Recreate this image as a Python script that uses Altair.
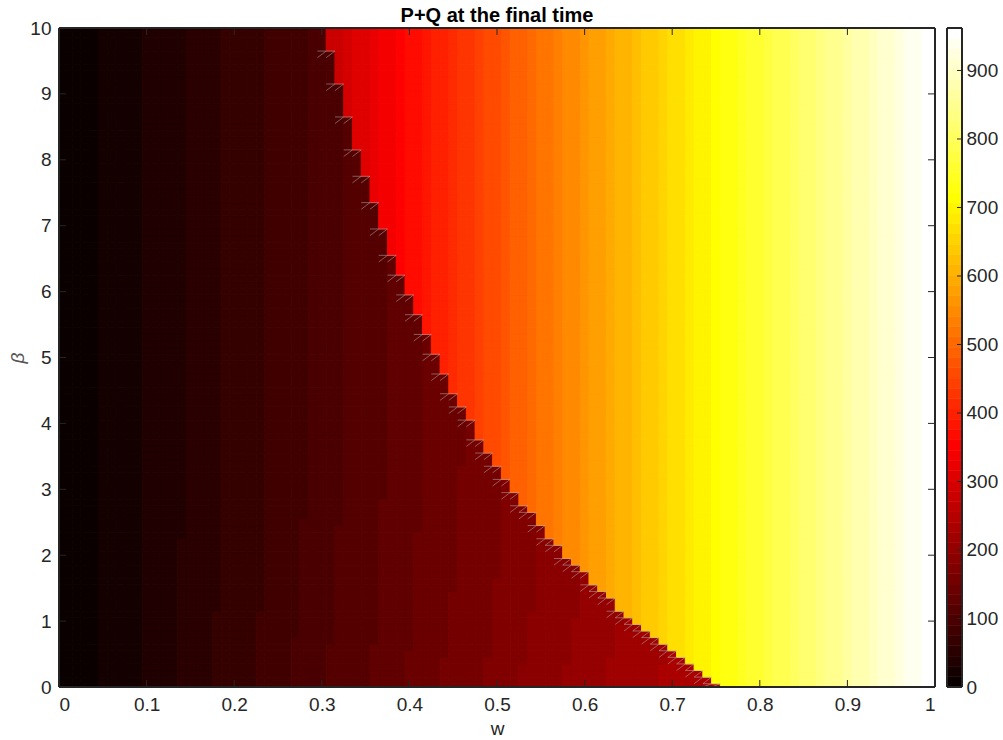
import altair as alt
import pandas as pd

TITLE = "P+Q at the final time"
X_TITLE = "w"
Y_TITLE = "β"
FONT = "Liberation Sans"
INK = "#262626"

# sampling grid of the surface: w = 0..1 (step 0.01), beta = 0..10 (step 0.1)
W_STEP = 0.01
BETA_STEP = 0.1
N_W = 101
N_BETA = 101
W_MAX = 1.0
BETA_MAX = 10.0

x_ticks = [0, 0.1, 0.2, 0.3, 0.4, 0.5, 0.6, 0.7, 0.8, 0.9, 1]
y_ticks = [0, 1, 2, 3, 4, 5, 6, 7, 8, 9, 10]
cbar_ticks = [0, 100, 200, 300, 400, 500, 600, 700, 800, 900]

CMAX = 962  # colour limit (max of the data)

# P+Q right of the switching curve (depends on w only), columns 31..100
HIGH_FIRST_COL = 31
high_values = [272, 283, 293, 302, 312, 322, 331, 341, 352, 362,
               372, 383, 392, 402, 412, 422, 433, 443, 452, 462,
               472, 482, 493, 502, 512, 523, 532, 542, 553, 562,
               572, 583, 592, 602, 613, 622, 632, 643, 652, 662,
               672, 683, 692, 702, 712, 722, 732, 742, 752, 762,
               772, 782, 792, 802, 812, 822, 832, 842, 852, 862,
               872, 882, 892, 902, 912, 922, 932, 942, 952, 962]

# lowest beta at which columns 31..75 switch to the high branch
beta_threshold = [9.7, 9.2, 8.7, 8.2, 7.8, 7.4, 7.0, 6.6, 6.3, 6.0,
                  5.7, 5.4, 5.1, 4.8, 4.5, 4.3, 4.1, 3.8, 3.6, 3.4,
                  3.2, 3.0, 2.8, 2.7, 2.5, 2.3, 2.2, 2.0, 1.9, 1.8,
                  1.6, 1.5, 1.4, 1.2, 1.1, 1.0, 0.9, 0.8, 0.7, 0.6,
                  0.5, 0.4, 0.3, 0.2, 0.1]

# P+Q left of the curve at beta = 0, columns 0..75
low_values = [0.0, 4.5, 7.5, 10.6, 13.6, 16.6, 19.6, 22.6, 25.6, 28.7,
              32.5, 35.8, 39.6, 43.4, 47.1, 50.9, 54.7, 58.4, 61.8, 64.8,
              67.9, 70.9, 73.9, 77.3, 81.0, 84.8, 88.6, 92.0, 94.5, 96.5,
              96.6, 107.1, 110.1, 113.1, 116.1, 119.1, 122.5, 126.3, 130.1, 133.8,
              137.6, 141.4, 145.2, 148.9, 152.3, 155.3, 158.3, 161.4, 164.4, 167.8,
              171.5, 175.3, 179.1, 182.5, 185.5, 188.5, 191.5, 194.5, 197.6, 200.6,
              203.6, 206.6, 209.6, 213.0, 215.4, 217.8, 220.2, 222.6, 225.0, 228.0,
              230.2, 232.4, 234.6, 236.6, 238.6, 240.5]

# relative drop of the left branch with beta (rows beta = 0, 0.1, ..., 10)
row_scale = [1.000, .997, .994, .991, .988, .985, .983, .981, .979, .977, .975,
             .973, .971, .969, .968, .966, .965, .963, .962, .961, .960,
             .959, .958, .957, .956, .955, .954, .953, .953, .952, .951,
             .951, .950, .950, .949, .949, .948, .948, .948, .947, .947,
             .947, .946, .946, .946, .946, .945, .945, .945, .945, .944,
             .944, .944, .944, .944, .943, .943, .943, .943, .943, .942,
             .942, .942, .942, .942, .942, .941, .941, .941, .941, .941,
             .941, .940, .940, .940, .940, .940, .940, .939, .939, .939,
             .939, .939, .939, .939, .938, .938, .938, .938, .938, .938,
             .938, .937, .937, .937, .937, .937, .937, .937, .936, .936]

# MATLAB "hot" colormap with 64 entries
N_LEVELS = 64
hot = []
for k in range(N_LEVELS):
    r = min(1.0, (k + 1) / 24)
    g = 0.0 if k < 24 else min(1.0, (k - 23) / 24)
    b = 0.0 if k < 48 else (k - 47) / 16
    hot.append("#%02x%02x%02x" % (round(r * 255), round(g * 255), round(b * 255)))

cscale = alt.Scale(type="quantize", domain=[0, CMAX], range=hot, nice=False)


def cell_x(i):
    w = i * W_STEP
    return max(0.0, w - W_STEP / 2), min(W_MAX, w + W_STEP / 2)


def cell_y(j):
    b = j * BETA_STEP
    return max(0.0, b - BETA_STEP / 2), min(BETA_MAX, b + BETA_STEP / 2)


records = []
for i in range(N_W):
    x0, x1 = cell_x(i)
    k = i - HIGH_FIRST_COL
    for j in range(N_BETA):
        b = j * BETA_STEP
        y0, y1 = cell_y(j)
        if k >= 0 and (k >= len(beta_threshold) or b >= beta_threshold[k] - 1e-9):
            v = high_values[k]
        else:
            v = low_values[i] * row_scale[j]
        records.append({"x0": x0, "x1": x1, "y0": y0, "y1": y1, "v": v})
df = pd.DataFrame(records)

# faint mesh-edge artefacts drawn by the renderer along the switching curve
seg = []
for k, t in enumerate(beta_threshold):
    c = HIGH_FIRST_COL + k
    j = int(round(t / BETA_STEP)) - 1
    if j < 0:
        continue
    y0, y1 = cell_y(j)
    for ci in (c - 1, c):
        x0, x1 = cell_x(ci)
        seg.append({"a": x0, "b": x1, "c": y0, "d": y1})
    xa, _ = cell_x(c - 1)
    _, xb = cell_x(c)
    seg.append({"a": xa, "b": xb, "c": y1, "d": y1})
seg_df = pd.DataFrame(seg)

PW, PH = 876, 659
TICK = 7

xscale = alt.Scale(domain=[0, W_MAX], nice=False, zero=False)
yscale = alt.Scale(domain=[0, BETA_MAX], nice=False, zero=False)
xaxis = alt.Axis(values=x_ticks, format="~g", ticks=False, domain=False, grid=False,
                 labelPadding=8, title=X_TITLE, titlePadding=5,
                 labelFontSize=19, titleFontSize=19)
yaxis = alt.Axis(values=y_ticks, format="d", ticks=False, domain=False, grid=False,
                 labelPadding=8, title=Y_TITLE, titlePadding=2,
                 labelFontSize=19, titleFontSize=19, titleFontStyle="italic",
                 titleColor="#555555")

heat = alt.Chart(df).mark_rect(strokeWidth=1.0).encode(
    x=alt.X("x0:Q", scale=xscale, axis=xaxis),
    x2="x1:Q",
    y=alt.Y("y0:Q", scale=yscale, axis=yaxis),
    y2="y1:Q",
    color=alt.Color("v:Q", scale=cscale, legend=None),
    stroke=alt.Stroke("v:Q", scale=cscale, legend=None),
)

hatch = alt.Chart(seg_df).mark_rule(color="#b0b0b0", strokeWidth=0.7, opacity=0.75).encode(
    x=alt.X("a:Q", scale=xscale, axis=xaxis), x2="b:Q",
    y=alt.Y("c:Q", scale=yscale, axis=yaxis), y2="d:Q",
)

xt = pd.DataFrame({"t": x_ticks})
yt = pd.DataFrame({"t": y_ticks})
tick_bottom = alt.Chart(xt).mark_rule(color=INK, strokeWidth=1).encode(
    x=alt.X("t:Q", scale=xscale, axis=xaxis), y=alt.value(PH - TICK), y2=alt.value(PH))
tick_top = alt.Chart(xt).mark_rule(color=INK, strokeWidth=1).encode(
    x=alt.X("t:Q", scale=xscale, axis=xaxis), y=alt.value(0), y2=alt.value(TICK))
tick_left = alt.Chart(yt).mark_rule(color=INK, strokeWidth=1).encode(
    y=alt.Y("t:Q", scale=yscale, axis=yaxis), x=alt.value(0), x2=alt.value(TICK))
tick_right = alt.Chart(yt).mark_rule(color=INK, strokeWidth=1).encode(
    y=alt.Y("t:Q", scale=yscale, axis=yaxis), x=alt.value(PW - TICK), x2=alt.value(PW))
frame = alt.Chart(xt).mark_rect(filled=False, stroke=INK, strokeWidth=1).encode(
    x=alt.value(0), x2=alt.value(PW), y=alt.value(0), y2=alt.value(PH))

left = alt.layer(heat, hatch, tick_bottom, tick_top, tick_left, tick_right, frame).properties(
    width=PW, height=PH,
    title=alt.TitleParams(TITLE, font=FONT, fontSize=20, fontWeight="bold", color="black",
                          anchor="middle", offset=-7),
)

# colour bar
CB_W = 15
cb = pd.DataFrame({"lo": [k * CMAX / N_LEVELS for k in range(N_LEVELS)],
                   "hi": [(k + 1) * CMAX / N_LEVELS for k in range(N_LEVELS)],
                   "mid": [(k + 0.5) * CMAX / N_LEVELS for k in range(N_LEVELS)]})
cbscale = alt.Scale(domain=[0, CMAX], nice=False, zero=False)
cbaxis = alt.Axis(orient="right", values=cbar_ticks, ticks=False, domain=False, grid=False,
                  labelPadding=4, title=None, labelFontSize=19)
cbar = alt.Chart(cb).mark_rect(strokeWidth=0.6).encode(
    y=alt.Y("lo:Q", scale=cbscale, axis=cbaxis),
    y2="hi:Q",
    x=alt.value(0), x2=alt.value(CB_W),
    color=alt.Color("mid:Q", scale=cscale, legend=None),
    stroke=alt.Stroke("mid:Q", scale=cscale, legend=None),
)
ct = pd.DataFrame({"t": cbar_ticks})
cb_ticks = alt.Chart(ct).mark_rule(color=INK, strokeWidth=1).encode(
    y=alt.Y("t:Q", scale=cbscale, axis=cbaxis), x=alt.value(CB_W - 5), x2=alt.value(CB_W))
cb_frame = alt.Chart(ct).mark_rect(filled=False, stroke=INK, strokeWidth=1).encode(
    x=alt.value(0), x2=alt.value(CB_W), y=alt.value(0), y2=alt.value(PH))
right = alt.layer(cbar, cb_ticks, cb_frame).properties(width=CB_W, height=PH)

chart = alt.hconcat(left, right, spacing=12, bounds="flush").resolve_scale(
    color="independent", stroke="independent"
).properties(
    padding={"left": 8, "top": 6, "right": 0, "bottom": 0}
).configure_view(stroke=None).configure_axis(
    labelFont=FONT, titleFont=FONT, labelColor=INK, titleColor=INK, titleFontWeight="normal"
)

chart.save("out.html", embed_options={"renderer": "svg", "actions": False})
